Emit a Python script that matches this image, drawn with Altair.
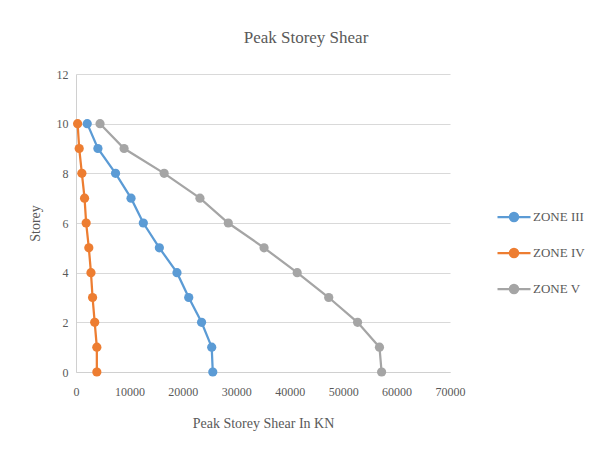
import altair as alt
import pandas as pd

storeys = [10, 9, 8, 7, 6, 5, 4, 3, 2, 1, 0]
zone3 = [2100, 4100, 7400, 10300, 12600, 15600, 18900, 21100, 23500, 25400, 25600]
zone4 = [300, 600, 1100, 1600, 1900, 2400, 2800, 3100, 3500, 3900, 3900]
zone5 = [4500, 9000, 16500, 23200, 28500, 35200, 41400, 47300, 52700, 56800, 57200]
series_names = ["ZONE III", "ZONE IV", "ZONE V"]
colors = ["#5B9BD5", "#ED7D31", "#A5A5A5"]

rows = []
for name, vals in zip(series_names, [zone3, zone4, zone5]):
    for s, v in zip(storeys, vals):
        rows.append({"zone": name, "storey": s, "shear": v})
df = pd.DataFrame(rows)

font = "Liberation Serif"
sym = "M-1,0H1M-0.25,0A0.25,0.25 0 1,0 0.25,0A0.25,0.25 0 1,0 -0.25,0Z"

chart = alt.Chart(df).mark_line(
    strokeWidth=2.25,
    point=alt.OverlayMarkDef(filled=True, size=85, opacity=1),
).encode(
    x=alt.X("shear:Q", title="Peak Storey Shear In KN",
            scale=alt.Scale(domain=[0, 70000], nice=False),
            axis=alt.Axis(values=list(range(0, 70001, 10000)), grid=False,
                          format="d", labelFlush=False, domain=True)),
    y=alt.Y("storey:Q", title="Storey",
            scale=alt.Scale(domain=[0, 12], nice=False),
            axis=alt.Axis(values=list(range(0, 13, 2)), grid=True, domain=True)),
    color=alt.Color("zone:N", scale=alt.Scale(domain=series_names, range=colors),
                    legend=alt.Legend(title=None, orient="none", legendX=420, legendY=125,
                                      symbolType=sym, symbolSize=1089,
                                      symbolStrokeWidth=2.25, rowPadding=9,
                                      labelFont=font, labelFontSize=13,
                                      labelColor="#595959", labelOffset=1)),
    order="storey:Q",
).properties(
    width=374, height=298,
    title=alt.TitleParams("Peak Storey Shear", font=font, fontSize=17,
                          fontWeight="normal", color="#595959", dx=43, offset=21),
    autosize=alt.AutoSizeParams(type="none"),
    padding={"left": 68, "top": 66, "right": 142, "bottom": 75},
).configure_view(stroke=None).configure_axis(
    labelFont=font, labelFontSize=12, labelColor="#595959",
    titleFont=font, titleFontSize=14, titleColor="#595959", titleFontWeight="normal",
    domainColor="#d0d0d0", gridColor="#d9d9d9", ticks=False, labelPadding=8,
).configure_axisX(titlePadding=19, labelPadding=14).configure_axisY(titlePadding=14)

chart.save("out.html", embed_options={"renderer": "svg", "actions": False})
